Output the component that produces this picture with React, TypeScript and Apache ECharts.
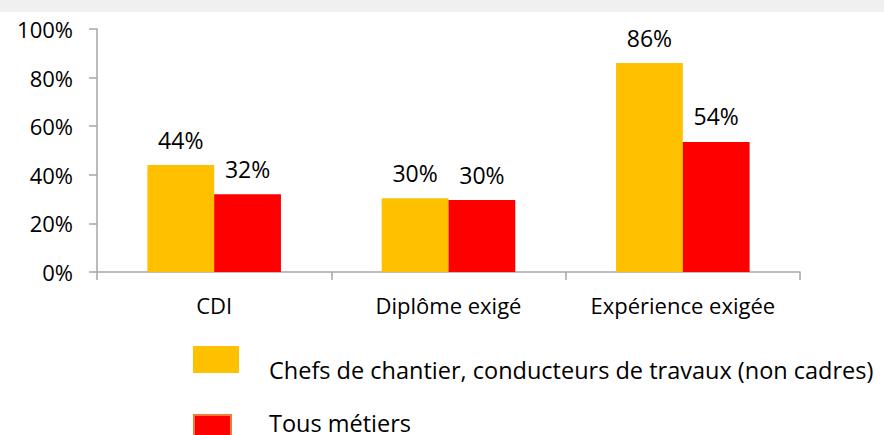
import React, { useEffect, useRef } from "react";
import * as echarts from "echarts";

const categories = ["CDI", "Diplôme exigé", "Expérience exigée"];
const seriesNames = [
  "Chefs de chantier, conducteurs de travaux (non cadres)",
  "Tous métiers",
];
const seriesColors = ["#ffc000", "#ff0000"];
const chefsValues = [44, 30.4, 86];
const tousValues = [32, 29.6, 53.5];
const yTicks = [0, 20, 40, 60, 80, 100];

const FONT = "'Open Sans', 'Noto Sans', sans-serif";

export default function App() {
  const ref = useRef<HTMLDivElement>(null);
  useEffect(() => {
    document.body.style.margin = "0";
    if (!ref.current) return;
    const chart = echarts.init(ref.current, null, { renderer: "svg" });
    const label = {
      show: true,
      position: "top",
      distance: 14,
      color: "#000",
      fontFamily: FONT,
      fontSize: 23,
      formatter: (p: any) => Math.round(p.value) + "%",
    };
    const legendFont = { fill: "#000", fontFamily: FONT, fontSize: 23.5 };
    chart.setOption({
      animation: false,
      backgroundColor: "#ffffff",
      textStyle: { fontFamily: FONT },
      graphic: [
        {
          type: "rect",
          left: 0,
          top: 0,
          shape: { width: 884, height: 12 },
          style: { fill: "#f0f0f0" },
          silent: true,
        },
        {
          type: "rect",
          shape: { x: 193, y: 346, width: 46, height: 27 },
          style: { fill: seriesColors[0] },
          silent: true,
        },
        {
          type: "text",
          x: 269,
          y: 370,
          style: { ...legendFont, text: seriesNames[0], verticalAlign: "middle" },
          silent: true,
        },
        {
          type: "rect",
          shape: { x: 194, y: 415, width: 37, height: 27 },
          style: { fill: seriesColors[1], stroke: "#f07c3a", lineWidth: 2 },
          silent: true,
        },
        {
          type: "text",
          x: 269,
          y: 423,
          style: { ...legendFont, text: seriesNames[1], verticalAlign: "middle" },
          silent: true,
        },
      ],
      grid: { left: 97, right: 84, top: 29, bottom: 163, containLabel: false },
      xAxis: {
        type: "category",
        data: categories,
        axisLine: { show: true, lineStyle: { color: "#a6a6a6", width: 1.5 } },
        axisTick: { show: true, length: 8, lineStyle: { color: "#a6a6a6", width: 1.5 } },
        axisLabel: {
          color: "#000",
          fontFamily: FONT,
          fontSize: 22,
          margin: 22,
          interval: 0,
          hideOverlap: false,
        },
      },
      yAxis: {
        type: "value",
        min: yTicks[0],
        max: yTicks[yTicks.length - 1],
        interval: 20,
        splitLine: { show: false },
        axisLine: { show: true, lineStyle: { color: "#a6a6a6", width: 1.5 } },
        axisTick: { show: true, length: 8, lineStyle: { color: "#a6a6a6", width: 1.5 } },
        axisLabel: {
          color: "#000",
          fontFamily: FONT,
          fontSize: 22,
          margin: 24,
          formatter: "{value}%",
        },
      },
      series: [
        {
          name: seriesNames[0],
          type: "bar",
          data: chefsValues,
          itemStyle: { color: seriesColors[0] },
          barGap: "0%",
          barCategoryGap: "43%",
          label,
        },
        {
          name: seriesNames[1],
          type: "bar",
          data: tousValues,
          itemStyle: { color: seriesColors[1] },
          barGap: "0%",
          barCategoryGap: "43%",
          label,
        },
      ],
    });
    return () => chart.dispose();
  }, []);
  return <div ref={ref} style={{ width: 884, height: 435 }} />;
}
